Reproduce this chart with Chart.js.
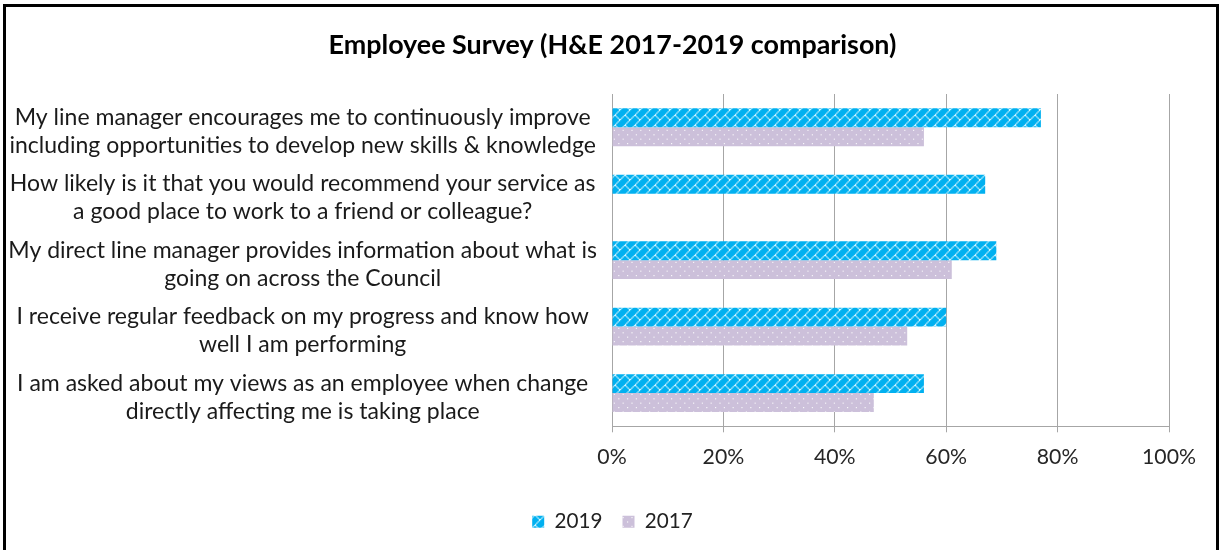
<!DOCTYPE html>
<html>
<head>
<meta charset="utf-8">
<script src="https://cdn.jsdelivr.net/npm/chart.js@4.4.1/dist/chart.umd.min.js"></script>
<style>
  html, body { margin: 0; padding: 0; background: #fff; overflow: hidden; }
  #wrap { position: relative; width: 1225px; height: 550px; }
  #frame { position: absolute; left: 3px; top: 4px; width: 1216px; height: 600px; border: 3px solid #000; box-sizing: border-box; pointer-events: none; }
  canvas { position: absolute; left: 0; top: 0; }
</style>
</head>
<body>
<div id="wrap">
  <canvas id="c" width="1225" height="550"></canvas>
  <div id="frame"></div>
</div>
<script>
const chartTitle = "Employee Survey (H&E 2017-2019 comparison)";
const categories = [
  ["My line manager encourages me to continuously improve", "including opportunities to develop new skills & knowledge"],
  ["How likely is it that you would recommend your service as", "a good place to work to a friend or colleague?"],
  ["My direct line manager provides information about what is", "going on across the Council"],
  ["I receive regular feedback on my progress and know how", "well I am performing"],
  ["I am asked about my views as an employee when change", "directly affecting me is taking place"]
];
const seriesNames = ["2019", "2017"];
const values2019 = [77, 67, 69, 60, 56];
const values2017 = [56, null, 61, 53, 47];
const xTicks = [0, 20, 40, 60, 80, 100];

const FAMILY = "Lato, 'Open Sans', sans-serif";

function fitSize(text, weight, target) {
  const cv = document.createElement('canvas');
  const cx = cv.getContext('2d');
  cx.font = weight + " 20px " + FAMILY;
  const w = cx.measureText(text).width;
  return 20 * target / w;
}

const labelSize = fitSize("My direct line manager provides information about what is", "normal", 589);
const titleSize = fitSize(chartTitle, "bold", 568);
const tickSize = fitSize("100%", "normal", 54);
const legendSize = fitSize("2019", "normal", 48);

function makePattern(bg, fg, bits, scale) {
  const n = bits.length;
  const cv = document.createElement('canvas');
  cv.width = n; cv.height = n;
  const cx = cv.getContext('2d');
  cx.fillStyle = bg;
  cx.fillRect(0, 0, n, n);
  cx.fillStyle = fg;
  for (let r = 0; r < n; r++) {
    for (let c = 0; c < n; c++) {
      if (bits[r][c] === '1') cx.fillRect(c, r, 1, 1);
    }
  }
  const p = document.getElementById('c').getContext('2d').createPattern(cv, 'repeat');
  if (p.setTransform) p.setTransform(new DOMMatrix([scale, 0, 0, scale, 0, 0]));
  return p;
}

const brick = makePattern('#00B0F0', '#D8F6FF', [
  "00000001",
  "00000010",
  "00000100",
  "00001000",
  "00011000",
  "00100100",
  "01000010",
  "10000001"
], 1.25);
const dots = makePattern('#CCC0DA', '#FFFFFF', [
  "00000000",
  "00000000",
  "00100000",
  "00000000",
  "00000000",
  "00000000",
  "00000010",
  "00000000"
], 1.1);

const gridGrey = '#A6A6A6';

new Chart(document.getElementById('c'), {
  type: 'bar',
  data: {
    labels: categories,
    datasets: [
      { label: seriesNames[0], data: values2019, backgroundColor: brick, borderWidth: 0,
        categoryPercentage: 0.57, barPercentage: 1 },
      { label: seriesNames[1], data: values2017, backgroundColor: dots, borderWidth: 0,
        categoryPercentage: 0.57, barPercentage: 1 }
    ]
  },
  options: {
    indexAxis: 'y',
    responsive: false,
    animation: false,
    devicePixelRatio: 1,
    layout: { padding: { left: 0, right: 0, top: 0, bottom: 8 } },
    plugins: {
      title: {
        display: true,
        text: chartTitle,
        color: '#000',
        font: { family: FAMILY, size: titleSize, weight: 'bold', lineHeight: 1.2 },
        padding: { top: 29, bottom: 94 - 29 - titleSize * 1.2 }
      },
      legend: {
        display: true,
        position: 'bottom',
        labels: {
          color: '#222',
          font: { family: FAMILY, size: legendSize },
          boxWidth: 12,
          boxHeight: 12,
          padding: 20
        }
      },
      tooltip: { enabled: false }
    },
    scales: {
      x: {
        min: 0, max: 100,
        afterBuildTicks: (s) => { s.ticks = xTicks.map(v => ({ value: v })); },
        afterFit: (s) => { s.height = 65; },
        ticks: {
          color: '#262626',
          font: { family: FAMILY, size: tickSize, lineHeight: 1.2 },
          padding: 12,
          callback: (v) => v + '%'
        },
        grid: { color: gridGrey, lineWidth: 1, drawTicks: true, tickLength: 6, tickColor: gridGrey },
        border: { display: true, color: gridGrey, width: 1 }
      },
      y: {
        afterFit: (s) => { s.width = 612; },
        ticks: {
          color: '#1a1a1a',
          crossAlign: 'center',
          padding: 15,
          labelOffset: 4,
          font: { family: FAMILY, size: labelSize, lineHeight: 28 / labelSize }
        },
        grid: { display: false, drawTicks: false },
        border: { display: true, color: gridGrey, width: 1 }
      },
      ySpacer: {
        type: 'linear',
        axis: 'y',
        position: 'right',
        display: true,
        afterFit: (s) => { s.width = 56; },
        ticks: { display: false },
        grid: { display: false, drawTicks: false },
        border: { display: false }
      }
    }
  }
});
</script>
</body>
</html>
